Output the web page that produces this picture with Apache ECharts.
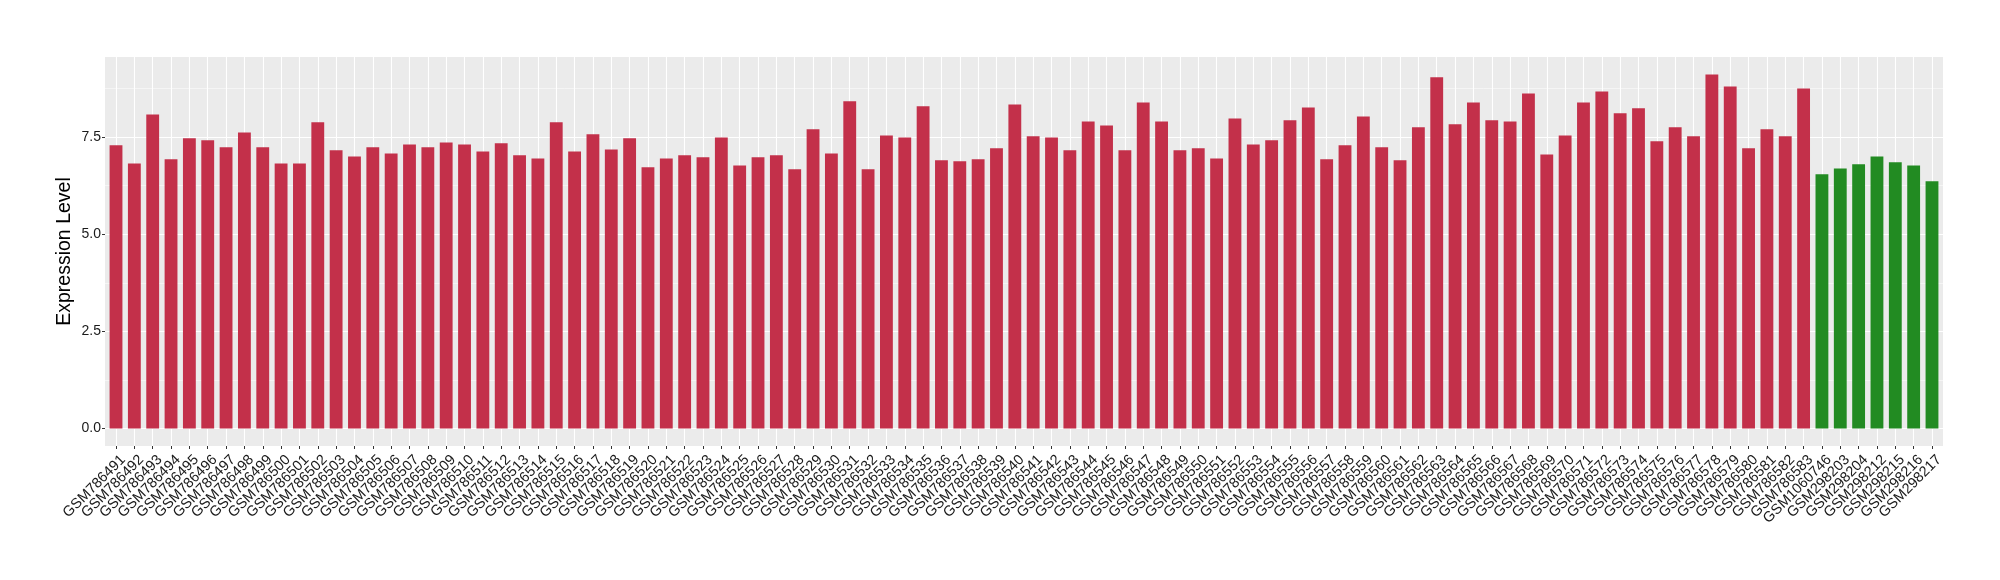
<!DOCTYPE html>
<html>
<head>
<meta charset="utf-8">
<script src="https://cdn.jsdelivr.net/npm/echarts@6/dist/echarts.min.js"></script>
<style>
html,body{margin:0;padding:0;background:#ffffff;}
#chart{width:2000px;height:580px;}
</style>
</head>
<body>
<div id="chart"></div>
<script>
// ---- data ----
const tumorSamples = [
  'GSM786491','GSM786492','GSM786493','GSM786494','GSM786495','GSM786496','GSM786497','GSM786498','GSM786499','GSM786500',
  'GSM786501','GSM786502','GSM786503','GSM786504','GSM786505','GSM786506','GSM786507','GSM786508','GSM786509','GSM786510',
  'GSM786511','GSM786512','GSM786513','GSM786514','GSM786515','GSM786516','GSM786517','GSM786518','GSM786519','GSM786520',
  'GSM786521','GSM786522','GSM786523','GSM786524','GSM786525','GSM786526','GSM786527','GSM786528','GSM786529','GSM786530',
  'GSM786531','GSM786532','GSM786533','GSM786534','GSM786535','GSM786536','GSM786537','GSM786538','GSM786539','GSM786540',
  'GSM786541','GSM786542','GSM786543','GSM786544','GSM786545','GSM786546','GSM786547','GSM786548','GSM786549','GSM786550',
  'GSM786551','GSM786552','GSM786553','GSM786554','GSM786555','GSM786556','GSM786557','GSM786558','GSM786559','GSM786560',
  'GSM786561','GSM786562','GSM786563','GSM786564','GSM786565','GSM786566','GSM786567','GSM786568','GSM786569','GSM786570',
  'GSM786571','GSM786572','GSM786573','GSM786574','GSM786575','GSM786576','GSM786577','GSM786578','GSM786579','GSM786580',
  'GSM786581','GSM786582','GSM786583'
];
const tumorValues = [
  7.29, 6.82, 8.08, 6.93, 7.47, 7.42, 7.24, 7.62, 7.24, 6.82,
  6.82, 7.88, 7.16, 7.00, 7.24, 7.08, 7.31, 7.24, 7.36, 7.31,
  7.13, 7.34, 7.03, 6.95, 7.88, 7.13, 7.57, 7.18, 7.47, 6.72,
  6.95, 7.03, 6.98, 7.49, 6.77, 6.98, 7.03, 6.67, 7.70, 7.08,
  8.42, 6.67, 7.54, 7.49, 8.29, 6.90, 6.88, 6.93, 7.21, 8.34,
  7.52, 7.49, 7.16, 7.90, 7.80, 7.16, 8.39, 7.90, 7.16, 7.21,
  6.95, 7.98, 7.31, 7.42, 7.93, 8.26, 6.93, 7.29, 8.03, 7.24,
  6.90, 7.75, 9.04, 7.83, 8.39, 7.93, 7.90, 8.62, 7.05, 7.54,
  8.39, 8.67, 8.11, 8.24, 7.39, 7.75, 7.52, 9.11, 8.80, 7.21,
  7.70, 7.52, 8.75
];
const normalSamples = ['GSM1060746','GSM298203','GSM298204','GSM298212','GSM298215','GSM298216','GSM298217'];
const normalValues = [6.54, 6.69, 6.80, 7.00, 6.85, 6.77, 6.36];
const yTickValues = [0, 2.5, 5, 7.5];
const yMinorValues = [1.25, 3.75, 6.25, 8.75];
const yTitle = 'Expression Level';

// ---- build ----
const categories = tumorSamples.concat(normalSamples);
const values = tumorValues.concat(normalValues);
const indices = categories.map((_, i) => i);
const FONT = "'Liberation Sans', Arial, Helvetica, sans-serif";
const RED = '#C3304A';
const GREEN = '#228B22';
const TICK = '#333333';

// panel layout (ggplot-like: 0.6 category expansion on each side, 5% on y)
const PANEL = {left: 105, right: 57, top: 57, bottom: 134, width: 1838};
const EXPAND = 0.6;
const unit = PANEL.width / (categories.length - 1 + 2 * EXPAND);
const inset = (EXPAND - 0.5) * unit;   // category bands start 0.1 unit inside the panel
const xMin = -EXPAND, xMax = categories.length - 1 + EXPAND;
const yMin = -0.45, yMax = 9.56;

const chart = echarts.init(document.getElementById('chart'), null, {renderer: 'canvas'});
chart.setOption({
  animation: false,
  backgroundColor: '#ffffff',
  grid: [{
    left: PANEL.left, right: PANEL.right, top: PANEL.top, bottom: PANEL.bottom,
    show: true, backgroundColor: '#EBEBEB', borderWidth: 0
  }, {
    left: PANEL.left + inset, right: PANEL.right + inset, top: PANEL.top, bottom: PANEL.bottom,
    show: false
  }],
  xAxis: [{
    gridIndex: 0, type: 'value', min: xMin, max: xMax, position: 'bottom',
    axisLine: {show: false, onZero: false},
    axisTick: {show: true, inside: false, customValues: indices, length: 3, lineStyle: {color: TICK, width: 1}},
    axisLabel: {show: false},
    splitLine: {show: true, lineStyle: {color: '#ffffff', width: 1.1}}
  }, {
    gridIndex: 1, type: 'category', data: categories, boundaryGap: true, position: 'bottom',
    axisLine: {show: false, onZero: false},
    axisTick: {show: false},
    axisLabel: {
      interval: 0, rotate: 45, align: 'right', verticalAlign: 'top', lineHeight: 20,
      margin: 4.5, fontSize: 14.5, color: '#1a1a1a', fontFamily: FONT
    },
    splitLine: {show: false}
  }],
  yAxis: [{
    gridIndex: 0, type: 'value', min: yMin, max: yMax, position: 'left',
    name: yTitle, nameLocation: 'middle', nameGap: 30, nameMoveOverlap: false,
    nameTextStyle: {fontSize: 19.5, color: '#000000', fontFamily: FONT},
    axisLine: {show: false, onZero: false},
    axisTick: {show: true, inside: false, customValues: yTickValues, length: 3, lineStyle: {color: TICK, width: 1}},
    axisLabel: {customValues: yTickValues, formatter: v => v.toFixed(1),
                margin: 4, fontSize: 14, color: '#1a1a1a', fontFamily: FONT},
    splitLine: {show: true, lineStyle: {color: '#ffffff', width: 1.1}}
  }, {
    gridIndex: 0, type: 'value', min: yMin, max: yMax, position: 'right',
    axisLine: {show: false, onZero: false},
    axisTick: {show: false, customValues: yMinorValues},
    axisLabel: {show: false},
    splitLine: {show: true, lineStyle: {color: '#ffffff', width: 0.5}}
  }, {
    gridIndex: 1, type: 'value', min: yMin, max: yMax, position: 'left',
    axisLine: {show: false, onZero: false}, axisTick: {show: false}, axisLabel: {show: false}, splitLine: {show: false}
  }],
  series: [{
    type: 'bar', name: 'expression', xAxisIndex: 1, yAxisIndex: 2, barWidth: '70%',
    data: values.map((v, i) => ({
      value: v,
      itemStyle: {color: i < tumorValues.length ? RED : GREEN}
    }))
  }]
});
</script>
</body>
</html>
